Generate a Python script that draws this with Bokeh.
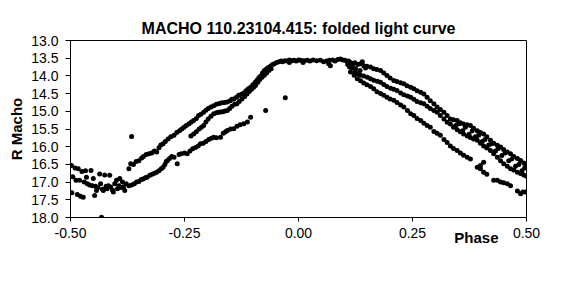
from bokeh.plotting import figure
from bokeh.models import Range1d, FixedTicker, NumeralTickFormatter, Title, ColumnDataSource
from bokeh.embed import file_html
from bokeh.resources import INLINE

TITLE = "MACHO 110.23104.415: folded light curve"
X_LABEL = "Phase"
Y_LABEL = "R Macho"
x_ticks = [-0.50, -0.25, 0.00, 0.25, 0.50]
y_ticks = [13.0, 13.5, 14.0, 14.5, 15.0, 15.5, 16.0, 16.5, 17.0, 17.5, 18.0]

# (phase, magnitude), grouped by branch
left_cluster = [(-0.498,16.53),(-0.495,16.85),(-0.497,17.30),(-0.490,16.60),(-0.488,16.95),(-0.485,17.35),
    (-0.483,16.62),(-0.480,16.95),(-0.478,17.40),(-0.475,16.70),(-0.472,17.43),(-0.470,17.00),(-0.467,16.68),
    (-0.465,16.86),(-0.463,17.05),(-0.458,17.08),(-0.455,16.67),(-0.452,17.10),(-0.450,16.90),(-0.447,17.38),
    (-0.445,17.12),(-0.443,17.24),(-0.440,17.15),(-0.436,16.77),(-0.434,17.05),(-0.432,17.99),(-0.430,17.20),
    (-0.428,17.24),(-0.425,16.80),(-0.422,17.12),(-0.420,17.19),(-0.417,17.10),(-0.414,16.81),(-0.412,17.14),
    (-0.408,17.22),(-0.406,17.28),(-0.403,17.05),(-0.399,16.95),(-0.397,17.19),(-0.394,17.10),(-0.392,16.90),
    (-0.389,17.15),(-0.386,17.00),(-0.384,17.14),(-0.381,17.24),(-0.378,17.05),(-0.366,15.71)]

rise_upper = [(-0.372,16.62),(-0.368,16.48),(-0.362,16.50),(-0.356,16.42),(-0.350,16.40),(-0.344,16.32),
    (-0.340,16.28),(-0.334,16.22),(-0.328,16.20),(-0.322,16.18),(-0.316,16.12),(-0.311,16.15),(-0.306,16.03),
    (-0.302,15.95),(-0.297,15.92),(-0.292,15.85),(-0.286,15.78),(-0.280,15.72),(-0.273,15.68),(-0.267,15.60),
    (-0.261,15.55),(-0.256,15.50),(-0.251,15.45),(-0.246,15.40),(-0.240,15.35),(-0.235,15.30),(-0.230,15.26),
    (-0.224,15.20),(-0.219,15.12),(-0.214,15.08),(-0.208,15.03),(-0.203,14.97),(-0.198,14.92),(-0.192,14.88),
    (-0.186,14.84),(-0.180,14.80),(-0.174,14.78),(-0.168,14.76),(-0.162,14.75),(-0.156,14.74),(-0.150,14.70),
    (-0.146,14.66),(-0.142,14.65),(-0.136,14.60),(-0.131,14.55),(-0.125,14.52),(-0.120,14.48),(-0.115,14.42),
    (-0.110,14.36),(-0.105,14.32),(-0.100,14.25),(-0.095,14.18),(-0.091,14.12),(-0.087,14.05),(-0.083,14.00),
    (-0.079,13.92),(-0.075,13.85),(-0.070,13.80),(-0.066,13.76),(-0.061,13.72),(-0.057,13.68),(-0.053,13.66),
    (-0.048,13.62),(-0.043,13.60),(-0.038,13.58)]

rise_middle = [(-0.236,15.70),(-0.230,15.64),(-0.224,15.58),(-0.218,15.50),(-0.213,15.45),(-0.208,15.40),
    (-0.203,15.30),(-0.198,15.22),(-0.192,15.14),(-0.186,15.07),(-0.180,15.04),(-0.175,15.03),(-0.171,15.02),
    (-0.166,15.01),(-0.161,14.99),(-0.156,14.98),(-0.151,14.92),(-0.146,14.86),(-0.140,14.80),(-0.135,14.79),
    (-0.130,14.72),(-0.124,14.65),(-0.118,14.58),(-0.113,14.51),(-0.108,14.44),(-0.103,14.38),(-0.098,14.32),
    (-0.094,14.27),(-0.089,14.18),(-0.085,14.10),(-0.080,14.04),(-0.075,13.98),(-0.070,13.92),(-0.065,13.85),
    (-0.060,13.80)]

rise_lower = [(-0.372,17.10),(-0.366,17.08),(-0.360,17.05),(-0.355,17.00),(-0.350,16.98),(-0.345,16.93),
    (-0.341,16.91),(-0.336,16.88),(-0.332,16.86),(-0.326,16.81),(-0.321,16.78),(-0.316,16.75),(-0.311,16.72),
    (-0.306,16.68),(-0.301,16.62),(-0.297,16.58),(-0.293,16.50),(-0.290,16.42),(-0.287,16.39),(-0.283,16.33),
    (-0.278,16.28),(-0.273,16.30),(-0.266,16.48),(-0.262,16.22),(-0.257,16.20),(-0.250,16.18),(-0.244,16.20),
    (-0.238,16.12),(-0.232,16.06),(-0.226,16.02),(-0.220,15.98),(-0.215,15.92),(-0.209,15.90),(-0.203,15.85),
    (-0.197,15.80),(-0.191,15.76),(-0.186,15.73),(-0.180,15.75),(-0.171,15.73),(-0.165,15.62),(-0.160,15.58),
    (-0.156,15.54),(-0.149,15.50),(-0.142,15.49),(-0.135,15.42),(-0.128,15.38),(-0.120,15.35),(-0.112,15.30),
    (-0.105,15.17),(-0.072,14.98),(-0.029,14.62)]

peak_top = [(-0.035,13.60),(-0.030,13.57),(-0.025,13.58),(-0.020,13.55),(-0.015,13.57),(-0.010,13.56),
    (-0.005,13.58),(0.000,13.55),(0.005,13.56),(0.012,13.57),(0.019,13.56),(0.025,13.58),(0.032,13.55),
    (0.040,13.57),(0.048,13.56),(0.055,13.60),(0.062,13.58),(0.068,13.56),(0.075,13.55),(0.080,13.58),
    (0.086,13.54),(0.092,13.52),(0.097,13.55),(0.102,13.56),(0.107,13.60),(0.070,13.71),(0.066,13.66),
    (-0.020,13.62),(0.010,13.62)]

fall_upper = [(0.110,13.58),(0.114,13.62),(0.118,13.65),(0.124,13.63),(0.130,13.68),(0.136,13.66),
    (0.143,13.71),(0.150,13.73),(0.158,13.75),(0.165,13.80),(0.172,13.82),(0.180,13.85),(0.187,13.92),
    (0.194,13.99),(0.201,14.06),(0.209,14.13),(0.216,14.16),(0.224,14.19),(0.231,14.22),(0.238,14.28),
    (0.246,14.32),(0.253,14.36),(0.260,14.42),(0.268,14.46),(0.275,14.51),(0.282,14.60),(0.289,14.70),
    (0.297,14.79),(0.304,14.88),(0.311,14.95),(0.319,15.03),(0.326,15.12),(0.333,15.22),(0.340,15.24),
    (0.348,15.26),(0.355,15.32),(0.362,15.36),(0.370,15.38),(0.377,15.40),(0.384,15.48),(0.392,15.55),
    (0.399,15.60),(0.406,15.64),(0.413,15.72),(0.421,15.82),(0.428,15.90),(0.436,15.96),(0.443,16.01),
    (0.450,16.08),(0.458,16.15),(0.465,16.20),(0.472,16.28),(0.480,16.33),(0.487,16.39),(0.494,16.46),
    (0.499,16.53),(0.118,13.72),(0.125,13.80),(0.135,13.85),(0.140,13.60),(0.147,13.78),(0.108,13.68),
    (0.112,13.75)]

fall_middle = [(0.118,13.78),(0.124,13.90),(0.129,13.94),(0.136,13.98),(0.143,14.00),(0.151,14.04),
    (0.158,14.08),(0.165,14.12),(0.173,14.15),(0.180,14.18),(0.187,14.24),(0.194,14.30),(0.202,14.35),
    (0.209,14.38),(0.216,14.41),(0.224,14.48),(0.231,14.53),(0.239,14.57),(0.246,14.60),(0.253,14.66),
    (0.260,14.72),(0.268,14.76),(0.275,14.79),(0.282,14.86),(0.289,14.92),(0.297,14.98),(0.304,15.03),
    (0.311,15.12),(0.319,15.22),(0.326,15.31),(0.333,15.36),(0.340,15.45),(0.348,15.52),(0.355,15.58),
    (0.362,15.64),(0.370,15.70),(0.377,15.74),(0.384,15.78),(0.392,15.82),(0.399,15.90),(0.406,15.98),
    (0.413,16.04),(0.421,16.11),(0.428,16.20),(0.436,16.30),(0.443,16.40),(0.450,16.48),(0.458,16.55),
    (0.465,16.62),(0.472,16.66),(0.480,16.72),(0.487,16.76),(0.494,16.80),(0.499,16.83),
    (0.352,15.35),(0.366,15.45),(0.381,15.55),(0.395,15.68),(0.409,15.80),(0.424,15.92),(0.438,16.05),
    (0.453,16.18),(0.468,16.35),(0.483,16.50),(0.496,16.60),(0.345,15.40),(0.360,15.55),(0.374,15.65),
    (0.388,15.72),(0.403,15.85),(0.417,15.95),(0.432,16.12),(0.446,16.25),(0.461,16.40),(0.476,16.55),
    (0.490,16.68)]

fall_lower = [(0.114,13.89),(0.122,13.98),(0.129,14.08),(0.136,14.14),(0.143,14.20),(0.150,14.25),
    (0.158,14.30),(0.165,14.36),(0.172,14.45),(0.180,14.50),(0.187,14.55),(0.194,14.60),(0.201,14.65),
    (0.209,14.69),(0.216,14.75),(0.224,14.82),(0.231,14.88),(0.239,14.98),(0.246,15.07),(0.253,15.12),
    (0.260,15.20),(0.268,15.26),(0.275,15.34),(0.282,15.40),(0.289,15.45),(0.297,15.57),(0.304,15.62),
    (0.311,15.68),(0.319,15.80),(0.326,15.88),(0.333,15.98),(0.340,16.05),(0.348,16.11),(0.355,16.18),
    (0.362,16.24),(0.370,16.30),(0.377,16.35),(0.392,16.58),(0.399,16.53),(0.406,16.72),(0.399,16.62),
    (0.413,16.78),(0.428,16.95),(0.436,16.95),(0.443,17.00),(0.450,17.02),(0.458,17.05),(0.465,17.10),
    (0.480,17.25),(0.487,17.33),(0.492,17.28),(0.498,17.28),(0.406,16.44)]

branches = [left_cluster, rise_upper, rise_middle, rise_lower, peak_top, fall_upper, fall_middle, fall_lower]
phase = [pt[0] for b in branches for pt in b]
mag = [pt[1] for b in branches for pt in b]
source = ColumnDataSource(data=dict(phase=phase, mag=mag))

FONT = "Liberation Sans"

p = figure(width=569, height=290, output_backend="svg", toolbar_location=None,
           x_range=Range1d(-0.5, 0.5), y_range=Range1d(18.0, 13.0),
           min_border_left=70, min_border_right=43, min_border_top=40, min_border_bottom=73,
           title=TITLE)
p.background_fill_color = "white"
p.border_fill_color = "white"
p.outline_line_color = "black"
p.outline_line_width = 1
p.xgrid.visible = False
p.ygrid.visible = False

p.title.text_font = FONT
p.title.text_font_size = "16px"
p.title.text_font_style = "bold"
p.title.align = "center"
p.title.text_color = "black"
p.title.standoff = 8

p.scatter("phase", "mag", source=source, size=5, marker="circle",
          fill_color="black", line_color="black", line_width=0)

xa = p.xaxis[0]
xa.ticker = FixedTicker(ticks=x_ticks)
xa.formatter = NumeralTickFormatter(format="0.00")
xa.major_tick_out = 4
xa.major_tick_in = 0
xa.minor_tick_out = 0
xa.minor_tick_in = 0
xa.major_label_standoff = 6
xa.major_label_text_font = FONT
xa.major_label_text_font_size = "14px"
xa.major_label_text_color = "black"
xa.axis_line_color = "black"
xa.major_tick_line_color = "black"

ya = p.yaxis[0]
ya.ticker = FixedTicker(ticks=y_ticks)
ya.formatter = NumeralTickFormatter(format="0.0")
ya.major_tick_out = 5
ya.major_tick_in = 0
ya.minor_tick_out = 0
ya.minor_tick_in = 0
ya.major_label_standoff = 7
ya.major_label_text_font = FONT
ya.major_label_text_font_size = "14px"
ya.major_label_text_color = "black"
ya.axis_line_color = "black"
ya.major_tick_line_color = "black"
ya.axis_label = Y_LABEL
ya.axis_label_text_font = FONT
ya.axis_label_text_font_size = "15px"
ya.axis_label_text_font_style = "bold"
ya.axis_label_text_color = "black"
ya.axis_label_standoff = 3

phase_title = Title(text=X_LABEL, align="right", offset=28, vertical_align="top", standoff=-24,
                    text_font=FONT, text_font_size="15px", text_font_style="bold", text_color="black")
p.add_layout(phase_title, "below")

open("out.html", "w").write(file_html(p, INLINE))
